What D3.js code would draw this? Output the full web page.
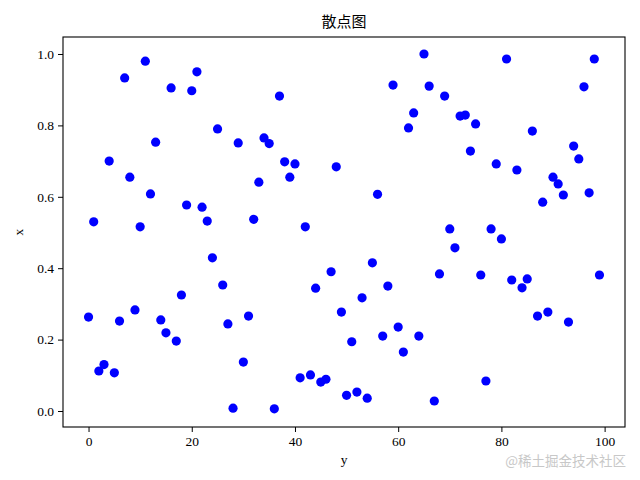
<!DOCTYPE html>
<html><head><meta charset="utf-8">
<script src="https://cdn.jsdelivr.net/npm/d3@7"></script>
<style>body{margin:0;background:#fff}svg{display:block}</style>
</head><body>
<script>
const xValues = d3.range(0, 100);
const yValues = [
0.263,0.530,0.112,0.130,0.700,0.107,0.252,0.933,0.655,0.283,
0.516,0.980,0.608,0.753,0.255,0.219,0.905,0.196,0.325,0.577,
0.897,0.950,0.571,0.532,0.429,0.790,0.353,0.244,0.008,0.751,
0.137,0.266,0.537,0.641,0.765,0.749,0.006,0.882,0.698,0.655,
0.692,0.093,0.516,0.101,0.344,0.081,0.089,0.390,0.684,0.277,
0.044,0.194,0.053,0.317,0.036,0.415,0.607,0.210,0.350,0.913,
0.235,0.165,0.793,0.835,0.210,1.000,0.910,0.028,0.384,0.882,
0.510,0.457,0.826,0.829,0.728,0.804,0.381,0.084,0.510,0.692,
0.482,0.986,0.367,0.675,0.345,0.370,0.784,0.266,0.585,0.277,
0.655,0.636,0.605,0.249,0.742,0.706,0.908,0.611,0.986,0.381];
const xTicks = [0, 20, 40, 60, 80, 100];
const yTicks = [0.0, 0.2, 0.4, 0.6, 0.8, 1.0];
const title = "散点图";
const xLabel = "y";
const yLabel = "x";
const watermark = "@稀土掘金技术社区";

const W = 640, H = 480;
const L = 63, R = 625, T = 37, B = 427;
const svg = d3.select("body").append("svg").attr("width", W).attr("height", H);
const x = d3.scaleLinear().domain([-4.95, 103.95]).range([L, R]);
const y = d3.scaleLinear().domain([-0.0448, 1.0476]).range([B, T]);
const font = "'Liberation Serif', 'Noto Sans CJK SC', serif";

svg.append("g").selectAll("circle").data(xValues).join("circle")
  .attr("cx", d => x(d)).attr("cy", (d, i) => y(yValues[i]))
  .attr("r", 4.6).attr("fill", "#0000ff");

const xAxis = svg.append("g").attr("transform", `translate(0,${B})`)
  .call(d3.axisBottom(x).tickValues(xTicks).tickSize(5).tickPadding(4).tickFormat(d3.format("d")));
const yAxis = svg.append("g").attr("transform", `translate(${L},0)`)
  .call(d3.axisLeft(y).tickValues(yTicks).tickSize(5).tickPadding(4).tickFormat(d3.format(".1f")));
[xAxis, yAxis].forEach(a => {
  a.select(".domain").remove();
  a.selectAll("line").attr("stroke", "#000").attr("stroke-width", 1);
  a.selectAll("text").attr("font-family", font).attr("font-size", 13.5).attr("fill", "#000");
});
svg.append("rect").attr("x", L).attr("y", T).attr("width", R - L).attr("height", B - T)
  .attr("fill", "none").attr("stroke", "#000").attr("stroke-width", 1.1);

svg.append("text").attr("x", (L + R) / 2).attr("y", 27).attr("text-anchor", "middle")
  .attr("font-family", "'Noto Sans CJK SC', sans-serif").attr("font-size", 15).text(title);
svg.append("text").attr("x", (L + R) / 2).attr("y", 464).attr("text-anchor", "middle")
  .attr("font-family", font).attr("font-size", 13.5).text(xLabel);
svg.append("text").attr("transform", `translate(23,${(T + B) / 2}) rotate(-90)`).attr("text-anchor", "middle")
  .attr("font-family", font).attr("font-size", 13.5).text(yLabel);
svg.append("text").attr("x", 626).attr("y", 466).attr("text-anchor", "end")
  .attr("font-family", "'Noto Sans CJK SC', sans-serif").attr("font-size", 13.5).attr("fill", "#c8c8c8").text(watermark);
</script>
</body></html>
